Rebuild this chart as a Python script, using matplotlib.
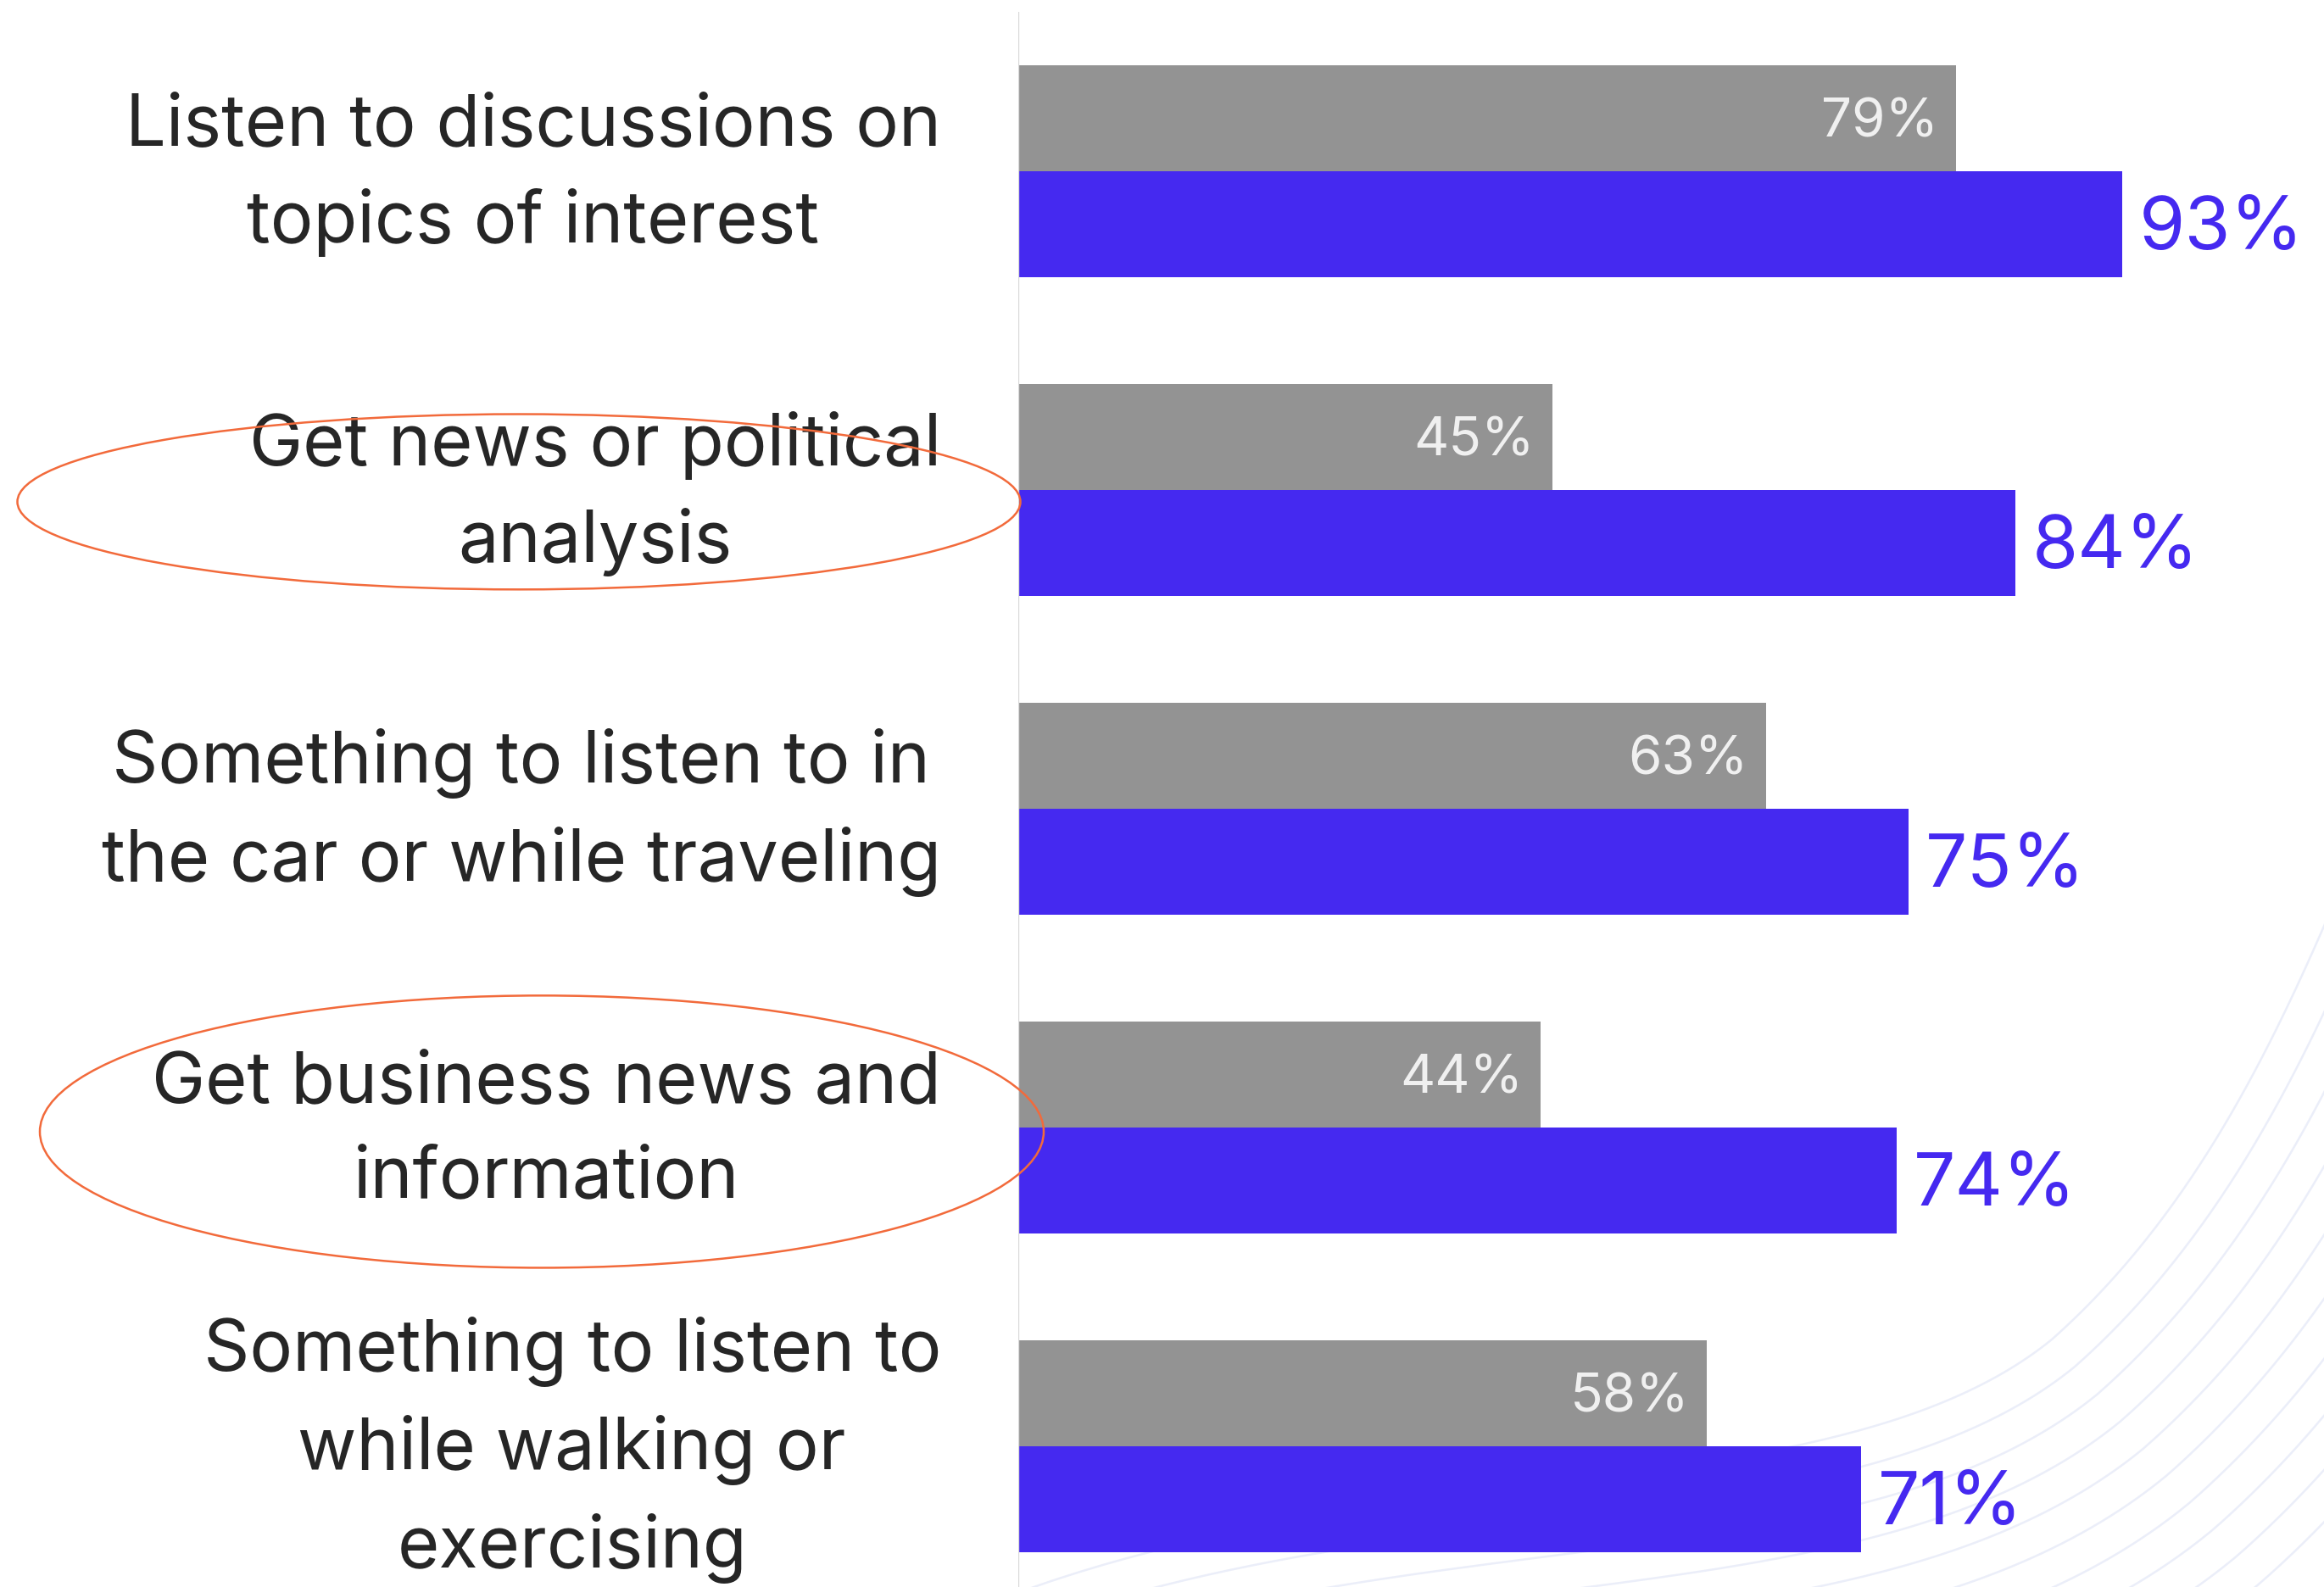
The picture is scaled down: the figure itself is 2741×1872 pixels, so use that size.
import numpy as np
import matplotlib.pyplot as plt
import matplotlib.transforms as mtransforms
from matplotlib.patches import Ellipse

plt.rcParams["font.family"] = ["Inter", "DejaVu Sans"]

categories = [
    "Listen to discussions on\ntopics of interest",
    "Get news or political\nanalysis",
    "Something to listen to in\nthe car or while traveling",
    "Get business news and\ninformation",
    "Something to listen to\nwhile walking or\nexercising",
]
grey_values = [79, 45, 63, 44, 58]
blue_values = [93, 84, 75, 74, 71]
highlighted = [1, 3]

GREY = "#939393"
BLUE = "#4529F0"
TEXT = "#262626"
RING = "#F26A3B"
WAVE = "#EBEEF9"

W, H, DPI = 2741, 1872, 100
fig = plt.figure(figsize=(W / DPI, H / DPI), dpi=DPI)
fig.patch.set_facecolor("white")


def px(x, y):
    # pixel position (origin top-left) -> figure fraction
    return x / W, 1 - y / H


def bezier(p0, p1, p2, p3, n=120):
    t = np.linspace(0, 1, n)[:, None]
    p0, p1, p2, p3 = map(np.asarray, (p0, p1, p2, p3))
    return ((1 - t) ** 3) * p0 + 3 * ((1 - t) ** 2) * t * p1 + 3 * (1 - t) * t ** 2 * p2 + t ** 3 * p3


# faint contour lines in the lower right corner, drawn as parallel offsets
seg1 = bezier((1080, 1930), (1550, 1700), (2150, 1800), (2420, 1580))
seg2 = bezier((2420, 1580), (2600, 1420), (2700, 1200), (2800, 950))
base = np.vstack([seg1, seg2[1:]])
tang = np.gradient(base, axis=0)
tang /= np.linalg.norm(tang, axis=1)[:, None]
normal = np.column_stack([-tang[:, 1], tang[:, 0]])  # points to the lower right
for d in np.arange(0, 400, 42):
    pts = base + d * normal
    fx, fy = px(pts[:, 0], pts[:, 1])
    fig.add_artist(plt.Line2D(fx, fy, color=WAVE, lw=1.8, zorder=0))

ax_left = 1201 / W
ax = fig.add_axes([ax_left, 0, 1 - ax_left, 1])
ax.patch.set_visible(False)

y = np.arange(len(categories))
h = 125 / 376
ax.barh(y - h / 2, grey_values, height=h, color=GREY, zorder=2)
ax.barh(y + h / 2, blue_values, height=h, color=BLUE, zorder=2)

ax.set_xlim(0, (W - 1201) / 14)
ax.set_ylim((H - 202) / 376, -202 / 376)
ax.vlines(0, -0.5, (H - 202) / 376, color="#D9D9D9", lw=1.7, zorder=3)

for yi, g, b in zip(y, grey_values, blue_values):
    ax.annotate(f"{g}%", (g, yi - h / 2), xytext=(-15, -4), textcoords="offset points",
                ha="right", va="center", fontsize=46, color="#F0F0F0", zorder=4)
    ax.annotate(f"{b}%", (b, yi + h / 2), xytext=(14, -5), textcoords="offset points",
                ha="left", va="center", fontsize=63, color=BLUE, zorder=4)

ax.set_xticks([])
ax.set_yticks([])
for side in ax.spines.values():
    side.set_visible(False)

label_tf = mtransforms.blended_transform_factory(fig.transFigure, ax.transData)
for yi, label in zip(y, categories):
    ax.text(1110 / W, yi + 0.012, label, transform=label_tf, ha="right", va="center",
            multialignment="center", fontsize=61, color=TEXT, linespacing=1.52)

# rings around the highlighted reasons
rings = {1: (612, 1183, 0.55, 0.037), 3: (639, 1184, 0.854, 0.013)}
for idx in highlighted:
    cx, w, hh, dy = rings[idx]
    ax.add_patch(Ellipse((cx / W, idx + dy), w / W, hh, transform=label_tf,
                         fill=False, edgecolor=RING, lw=1.8, zorder=5, clip_on=False))

fig.savefig("out.png", dpi=DPI)
